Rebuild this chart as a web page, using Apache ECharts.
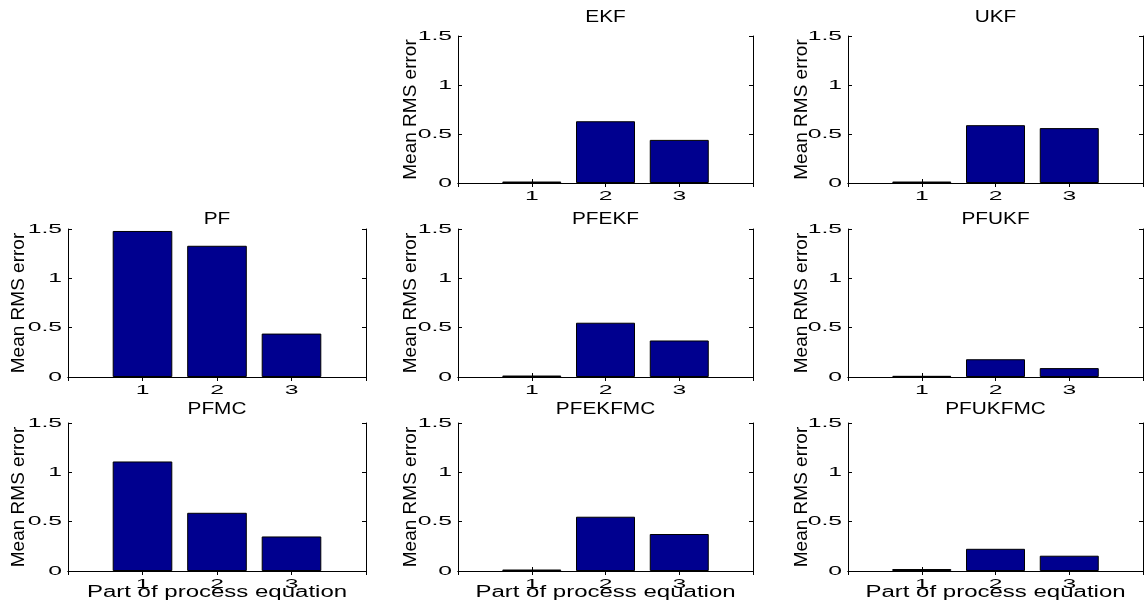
<!DOCTYPE html>
<html>
<head>
<meta charset="utf-8">
<script src="https://cdn.jsdelivr.net/npm/echarts@6/dist/echarts.min.js"></script>
<style>
html,body{margin:0;padding:0;background:#fff;}
#chart{width:1145px;height:605px;}
</style>
</head>
<body>
<div id="chart"></div>
<script>
// ---- data ----
const partLabels = ['1', '2', '3'];
const yTicks = [0, 0.5, 1, 1.5];
const yTickLabels = ['0', '0.5', '1', '1.5'];
const yLabel = 'Mean RMS error';
const xLabel = 'Part of process equation';
const methods = ['EKF', 'UKF', 'PF', 'PFEKF', 'PFUKF', 'PFMC', 'PFEKFMC', 'PFUKFMC'];
const ekf     = [0.015, 0.63, 0.44];
const ukf     = [0.015, 0.59, 0.56];
const pf      = [1.48, 1.33, 0.44];
const pfekf   = [0.015, 0.55, 0.37];
const pfukf   = [0.012, 0.18, 0.09];
const pfmc    = [1.11, 0.59, 0.35];
const pfekfmc = [0.015, 0.55, 0.375];
const pfukfmc = [0.02, 0.225, 0.155];
const seriesValues = [ekf, ukf, pf, pfekf, pfukf, pfmc, pfekfmc, pfukfmc];

// ---- layout ----
const colLeft = [68, 458, 848];
const colWidth = [298, 295, 295];
const rowTop = [36, 229, 423];
const rowHeight = [147, 148, 148];
const titleY = [18, 220, 410];
const nameGaps = [40, 38, 37];
const cells = [[0,1],[0,2],[1,0],[1,1],[1,2],[2,0],[2,1],[2,2]];

const BAR_COLOR = '#00008F';
const padCats = ['0'].concat(partLabels, ['4']);
const TICK_FONT = '13px "Liberation Sans"';
const TICK_SCALE = 1.9;

const grid = [], xAxis = [], yAxis = [], series = [];
methods.forEach((name, i) => {
  const [r, c] = cells[i];
  grid.push({left: colLeft[c], top: rowTop[r], width: colWidth[c], height: rowHeight[r], containLabel: false});
  const axLine = {show: true, lineStyle: {color: '#000', width: 1}};
  const tick = {show: true, inside: true, length: 4, lineStyle: {color: '#000'}};
  xAxis.push({
    type: 'category', gridIndex: i, position: 'bottom', data: padCats, boundaryGap: false,
    axisLine: axLine, axisTick: tick, splitLine: {show: false}, axisLabel: {show: false}
  });
  xAxis.push({
    type: 'category', gridIndex: i, position: 'top', data: padCats, boundaryGap: false,
    axisLine: axLine, axisTick: tick, axisLabel: {show: false}, splitLine: {show: false}
  });
  yAxis.push({
    type: 'value', gridIndex: i, position: 'left', min: yTicks[0], max: yTicks[yTicks.length-1], interval: 0.5,
    axisLine: axLine, axisTick: tick, splitLine: {show: false}, axisLabel: {show: false},
    name: yLabel, nameLocation: 'middle', nameRotate: 90, nameGap: nameGaps[c],
    nameTextStyle: {color: '#000', fontFamily: 'Liberation Sans', fontSize: 19}
  });
  yAxis.push({
    type: 'value', gridIndex: i, position: 'right', min: yTicks[0], max: yTicks[yTicks.length-1], interval: 0.5,
    axisLine: axLine, axisTick: tick, axisLabel: {show: false}, splitLine: {show: false}
  });
  series.push({
    type: 'bar', xAxisIndex: 2*i, yAxisIndex: 2*i,
    data: ['-'].concat(seriesValues[i], ['-']),
    barWidth: '80%',
    itemStyle: {color: BAR_COLOR, borderColor: '#000', borderWidth: 1},
    silent: true
  });
});

const chart = echarts.init(document.getElementById('chart'));
chart.setOption({animation: false, backgroundColor: '#fff', grid, xAxis, yAxis, series});

// text drawn with horizontal stretch, positioned through the axes' own scales
const graphic = [];
methods.forEach((name, i) => {
  const [r, c] = cells[i];
  const xAx = {xAxisIndex: 2*i}, yAx = {yAxisIndex: 2*i};
  const x0 = chart.convertToPixel(xAx, 0);
  const yBase = chart.convertToPixel(yAx, yTicks[0]);
  yTicks.forEach((t, k) => {
    graphic.push({
      type: 'text', x: x0 - 6, y: chart.convertToPixel(yAx, t), scaleX: TICK_SCALE, silent: true,
      style: {text: yTickLabels[k], fill: '#000', font: TICK_FONT, textAlign: 'right', textVerticalAlign: 'middle'}
    });
  });
  partLabels.forEach((lab, k) => {
    graphic.push({
      type: 'text', x: chart.convertToPixel(xAx, k + 1), y: yBase + 7, scaleX: TICK_SCALE, silent: true,
      style: {text: lab, fill: '#000', font: TICK_FONT, textAlign: 'center', textVerticalAlign: 'top'}
    });
  });
  graphic.push({
    type: 'text', x: colLeft[c] + colWidth[c]/2, y: titleY[r], scaleX: 1.3, silent: true,
    style: {text: name, fill: '#000', font: '16px "Liberation Sans"', textAlign: 'center', textVerticalAlign: 'middle'}
  });
  if (r === 2) {
    graphic.push({
      type: 'text', x: colLeft[c] + colWidth[c]/2, y: 593, scaleX: 1.5, silent: true,
      style: {text: xLabel, fill: '#000', font: '16px "Liberation Sans"', textAlign: 'center', textVerticalAlign: 'middle'}
    });
  }
});
chart.setOption({graphic});
</script>
</body>
</html>
